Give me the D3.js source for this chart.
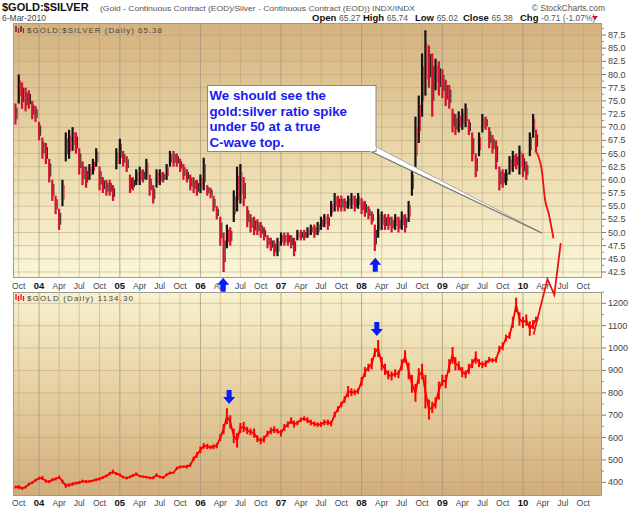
<!DOCTYPE html>
<html><head><meta charset="utf-8">
<script src="https://cdn.jsdelivr.net/npm/d3@7"></script>
<style>body{margin:0;background:#fff}svg{display:block}text{font-family:"Liberation Sans",Arial,sans-serif}</style>
</head><body>
<svg id="c" width="640" height="510"></svg>
<script>
// ---- data (half-monthly ranges, starting 16-Sep-2003) ----
const ratioHi = [74.5,80,78.5,77.5,77,75,74,71,68,67,64,60,57,54.5,60,69,69.5,70,69,66,63.5,62.5,63,64,66,62.5,60.5,60,60,59,66,67.8,65.5,64.5,61,60.5,62,62.5,62,64,61,59,62,62,61.5,63,65.5,65.5,65,64,63,62,61,60.5,60,61,64.2,59,58.5,57,55,53,50,51.5,51,58,62.5,63,60.5,55,53.5,53,52.5,52,51,49.5,49,48.5,49,50,50,50,49.5,49,50.5,50.5,50.5,51,51.5,51.5,52,53,53.5,53.5,56,57.5,57,57,56.5,57,57.5,57,57.5,56.5,56,55,54,51.5,54.5,54,53.5,53.5,53,53.5,53,54,53.5,56,62,72,76,84,88.4,85.5,84,83,82.5,81,79,78,73.5,72.5,73,73.5,74.5,71.5,69,65,69,72.5,72,70,68.5,67.5,62.5,62,62,64.5,65.5,65,66.5,65,63.5,69,72.5,69.5];
const ratioLo = [70.5,74.5,73.5,73,73.5,71.5,71,67.5,64,63,59.5,56,53.5,50.5,55,63.5,64,65.5,65,61,59,58.5,60,61,62.5,58,57.5,57,57,56,62,63,62.5,61.5,57.5,58,59,59,59.5,60,57,55.5,58.5,59,59.5,60,62.5,62.5,62.5,61.5,60,59.5,58,57.5,57,57.5,58,57,56.5,54,52.5,47.5,42.5,47,47.5,52,54,55.5,55,51,50,49.5,49.5,49,48.5,47,46.5,45.5,45.5,47.5,47.5,47.5,47,45.5,48.5,48.5,48.5,49,49.5,49,49.5,50.5,51,50.5,53,54,54,54,54,54.5,54.5,54,54.5,53.5,53,52.5,51.5,46.5,49,50.5,50.5,50.5,50,50.5,50,50.5,50,52,57,62,67,72,76,77.5,72,77,76,75.5,74,73.5,69,68.5,69,69.5,70,68.5,63.5,60.5,64.5,69,69.5,66,65,62,58,58.5,59,61,61.5,62,61,60.5,60,64.5,68,65.2];
const goldHi = [385,388,380,385,398,404,415,425,428,412,410,418,422,430,412,395,395,400,403,406,412,410,410,412,418,422,428,435,446,456,445,440,428,425,430,437,444,432,430,428,425,426,440,430,426,440,448,448,470,475,475,478,485,515,535,560,575,572,565,570,575,615,660,731,700,640,620,665,670,648,640,640,610,600,608,630,645,650,640,635,660,672,690,675,675,690,695,690,680,672,668,670,680,680,675,715,740,760,785,830,820,815,820,870,915,930,955,1000,1036,960,930,900,895,905,900,950,990,935,880,840,910,930,880,770,760,780,850,880,880,950,1005,960,940,915,900,930,950,985,950,940,945,960,955,960,1010,1025,1060,1070,1140,1225,1160,1140,1150,1120,1125,1140];
const goldLo = [372,370,366,372,385,392,403,412,410,398,396,404,408,415,395,375,380,385,390,392,398,396,398,402,405,408,415,422,432,438,432,426,418,413,418,424,430,422,420,418,414,414,425,418,415,428,436,438,455,462,465,462,470,495,510,530,550,548,548,548,552,585,615,660,640,575,555,620,625,615,610,600,580,570,578,605,615,620,618,605,630,645,660,645,655,670,675,665,655,650,648,648,655,655,650,690,715,735,755,780,785,790,795,830,870,895,905,960,960,900,880,860,855,870,865,900,935,860,800,760,840,860,730,680,710,730,770,830,820,890,930,900,900,870,865,885,910,930,915,910,915,935,935,935,980,990,1030,1040,1090,1160,1100,1090,1100,1055,1085,1115];
// hand-drawn projections (date, value)
const ratioProjDates = ["2010-03-01","2010-03-27","2010-04-11","2010-04-27","2010-05-19"];
const ratioProjVals = [65.4,61.9,56.2,53.7,48.9];
const goldProjDates = ["2010-02-18","2010-04-22","2010-05-23","2010-06-21"];
const goldProjVals = [1060,1308,1239,1469];
// arrow tips
const ratioArrowDates = ["2006-04-14","2008-03-03"];
const ratioArrowVals = [41.4,45.2];
const goldArrowDates = ["2006-05-11","2008-03-10"];
const goldArrowVals = [750,1054];
const calloutTipDate = "2010-03-27", calloutTipVal = 49.9;
const noteLines = ["We should see the","gold:silver ratio spike","under 50 at a true","C-wave top."];
const ratioTicks = d3.range(42.5, 88, 2.5);
const goldTicks = d3.range(400, 1201, 100);

// ---- layout ----
const L = 13, R = 602;
const TP = {y0: 23, y1: 278}, BP = {y0: 292, y1: 496};
const parse = d3.timeParse("%Y-%m-%d");
const dates = ratioHi.map((_, k) => { const i = k + 1; return new Date(2003, 8 + Math.floor(i / 2), i % 2 ? 16 : 1); });

const x = d3.scaleTime().domain([new Date(2003, 8, 5), new Date(2010, 11, 25)]).range([L, R]);
const yR = d3.scaleLinear().domain([42.5, 87.5]).range([272, 35]);
const yG = d3.scaleLinear().domain([400, 1200]).range([482.3, 303.3]);

const svg = d3.select("#c");
const defs = svg.append("defs");
const g1 = defs.append("linearGradient").attr("id", "gt").attr("x1", 0).attr("y1", 0).attr("x2", 0).attr("y2", 1);
g1.append("stop").attr("offset", 0).attr("stop-color", "#d4b27f");
g1.append("stop").attr("offset", 0.5).attr("stop-color", "#ead7a8");
g1.append("stop").attr("offset", 1).attr("stop-color", "#fbf7d9");
const g2 = defs.append("linearGradient").attr("id", "gb").attr("x1", 0).attr("y1", 0).attr("x2", 0).attr("y2", 1);
g2.append("stop").attr("offset", 0).attr("stop-color", "#f8f2cd");
g2.append("stop").attr("offset", 0.5).attr("stop-color", "#e6cf9f");
g2.append("stop").attr("offset", 1).attr("stop-color", "#d2ad7c");
defs.append("clipPath").attr("id", "ct").append("rect").attr("x", L).attr("y", TP.y0).attr("width", R - L).attr("height", TP.y1 - TP.y0);
defs.append("clipPath").attr("id", "cb").append("rect").attr("x", L).attr("y", BP.y0).attr("width", R - L).attr("height", BP.y1 - BP.y0);

svg.append("rect").attr("width", 640).attr("height", 510).attr("fill", "#fff");
[[TP, "gt"], [BP, "gb"]].forEach(([p, id]) => {
  svg.append("rect").attr("x", L).attr("y", p.y0).attr("width", R - L).attr("height", p.y1 - p.y0).attr("fill", `url(#${id})`);
});

const quarters = d3.timeMonth.every(3).range(new Date(2003, 9, 1), new Date(2010, 10, 2));
function grid(p, ys, yScale) {
  const g = svg.append("g");
  g.selectAll(".h").data(ys).join("line")
    .attr("x1", L).attr("x2", R).attr("y1", d => yScale(d)).attr("y2", d => yScale(d))
    .attr("stroke", "#b09a78").attr("stroke-opacity", 0.45).attr("stroke-width", 1);
  g.selectAll(".v").data(quarters).join("line")
    .attr("x1", d => x(d)).attr("x2", d => x(d)).attr("y1", p.y0).attr("y2", p.y1)
    .attr("stroke", d => d.getMonth() === 0 ? "#9d9482" : "#b09a78")
    .attr("stroke-opacity", d => d.getMonth() === 0 ? 0.75 : 0.45).attr("stroke-width", 1);
}
grid(TP, ratioTicks, yR);
grid(BP, goldTicks, yG);

// ---- ratio bars ----
const gr = svg.append("g").attr("clip-path", "url(#ct)");
const mids = ratioHi.map((h, i) => (h + ratioLo[i]) / 2);
const upC = (i) => (i > 0 && mids[i] > mids[i - 1]);
gr.selectAll("rect").data(dates).join("rect")
  .attr("x", d => x(d) - 1.1).attr("width", 2.2)
  .attr("y", (d, i) => yR(ratioHi[i])).attr("height", (d, i) => yR(ratioLo[i]) - yR(ratioHi[i]))
  .attr("fill", (d, i) => upC(i) ? "#141414" : "#d8102e");
gr.selectAll("line").data(dates).join("line")
  .attr("x1", d => x(d) + 1.6).attr("x2", d => x(d) + 1.6)
  .attr("y1", (d, i) => yR(mids[i] + (ratioHi[i] - ratioLo[i]) * 0.3)).attr("y2", (d, i) => yR(mids[i] - (ratioHi[i] - ratioLo[i]) * 0.25))
  .attr("stroke", (d, i) => upC(i) ? "#d8102e" : "#141414").attr("stroke-width", 0.9);

// ---- gold ----
const gg = svg.append("g").attr("clip-path", "url(#cb)");
gg.selectAll("rect").data(dates).join("rect")
  .attr("x", d => x(d) - 1).attr("width", 2)
  .attr("y", (d, i) => yG(goldHi[i])).attr("height", (d, i) => yG(goldLo[i]) - yG(goldHi[i]))
  .attr("fill", "#ff0000");
gg.append("path").datum(dates)
  .attr("d", d3.line().x(d => x(d)).y((d, i) => yG((goldHi[i] + goldLo[i]) / 2)))
  .attr("fill", "none").attr("stroke", "#ff0000").attr("stroke-width", 1.8);

// borders
[TP, BP].forEach(p => svg.append("rect").attr("x", L + 0.5).attr("y", p.y0 + 0.5).attr("width", R - L - 1).attr("height", p.y1 - p.y0 - 1)
  .attr("fill", "none").attr("stroke", "#a09a90").attr("stroke-width", 1));

// ---- right axes ----
function rightAxis(vals, yScale, fmt, step, p) {
  const g = svg.append("g");
  g.selectAll("line.maj").data(vals).join("line").attr("x1", R).attr("x2", R + 4)
    .attr("y1", d => yScale(d)).attr("y2", d => yScale(d)).attr("stroke", "#777");
  const minors = vals.map(v => v + step / 2).filter(v => yScale(v) > p.y0 && yScale(v) < p.y1);
  g.selectAll("line.min").data(minors).join("line").attr("x1", R).attr("x2", R + 2)
    .attr("y1", d => yScale(d)).attr("y2", d => yScale(d)).attr("stroke", "#888");
  g.selectAll("text").data(vals).join("text").attr("x", R + 6).attr("y", d => yScale(d) + 3)
    .attr("font-size", 9).attr("fill", "#444").text(fmt);
}
rightAxis(ratioTicks, yR, d3.format(".1f"), 2.5, TP);
rightAxis(goldTicks, yG, d3.format("d"), 100, BP);

// ---- date axes ----
function dateAxis(yb) {
  const g = svg.append("g");
  g.selectAll("text").data(quarters).join("text")
    .attr("x", d => x(d)).attr("y", yb).attr("text-anchor", "middle")
    .attr("font-size", d => d.getMonth() === 0 ? 9.5 : 8.5)
    .attr("font-weight", d => d.getMonth() === 0 ? "bold" : "normal")
    .attr("fill", d => d.getMonth() === 0 ? "#111" : "#444")
    .text(d => d.getMonth() === 0 ? d3.timeFormat("%y")(d) : d3.timeFormat("%b")(d));
}
dateAxis(289);
dateAxis(506);

// ---- projections ----
svg.append("path").datum(ratioProjDates.map((d, i) => [parse(d), ratioProjVals[i]]))
  .attr("d", d3.line().x(d => x(d[0])).y(d => yR(d[1])).curve(d3.curveMonotoneX))
  .attr("fill", "none").attr("stroke", "#ee1111").attr("stroke-width", 1.8);
svg.append("path").datum(goldProjDates.map((d, i) => [parse(d), goldProjVals[i]]))
  .attr("d", d3.line().x(d => x(d[0])).y(d => yG(d[1])))
  .attr("fill", "none").attr("stroke", "#ee1111").attr("stroke-width", 1.8);

// ---- arrows ----
function arrow(cx, tipY, dir) {
  const s = dir === "up" ? 1 : -1;
  const pts = [[0, 0], [6, 7], [2.5, 7], [2.5, 14], [-2.5, 14], [-2.5, 7], [-6, 7]]
    .map(([a, b]) => [cx + a, tipY + s * b]);
  svg.append("polygon").attr("points", pts.map(p => p.join(",")).join(" ")).attr("fill", "#0a1cff");
}
ratioArrowDates.forEach((d, i) => arrow(x(parse(d)), yR(ratioArrowVals[i]), "up"));
goldArrowDates.forEach((d, i) => arrow(x(parse(d)), yG(goldArrowVals[i]), "down"));

// ---- callout ----
const tip = [x(parse(calloutTipDate)), yR(calloutTipVal)];
const box = {x: 207, y: 85, w: 168.5, h: 66};
const b1 = [box.x + box.w - 5.5, box.y + box.h], b2 = [box.x + box.w, box.y + box.h - 4.5];
svg.append("polygon").attr("points", [b1, tip, b2].map(p => p.join(",")).join(" "))
  .attr("fill", "#fff").attr("stroke", "none");
svg.append("line").attr("x1", b2[0]).attr("y1", b2[1]).attr("x2", tip[0]).attr("y2", tip[1]).attr("stroke", "#a8a8a8").attr("stroke-width", 1);
svg.append("line").attr("x1", b1[0]).attr("y1", b1[1]).attr("x2", tip[0]).attr("y2", tip[1]).attr("stroke", "#6e6e6e").attr("stroke-width", 1.2);
svg.append("rect").attr("x", box.x + 0.5).attr("y", box.y + 0.5).attr("width", box.w).attr("height", box.h)
  .attr("fill", "#fff").attr("stroke", "#8a8a8a");
svg.append("line").attr("x1", b1[0] + 0.5).attr("y1", b1[1] + 0.5).attr("x2", b2[0] + 0.5).attr("y2", b2[1] + 0.5).attr("stroke", "#fff").attr("stroke-width", 2);
svg.append("g").selectAll("text").data(noteLines).join("text")
  .attr("x", box.x + 2.5).attr("y", (d, i) => box.y + 15 + i * 15.5)
  .attr("font-size", 13.3).attr("font-weight", "bold").attr("fill", "#1a1aee").text(d => d);

// ---- headers ----
svg.append("text").attr("x", 2).attr("y", 11).attr("font-size", 11).attr("font-weight", "bold").attr("fill", "#111").text("$GOLD:$SILVER");
svg.append("text").attr("x", 100).attr("y", 11).attr("font-size", 8).attr("fill", "#555")
  .attr("textLength", 315).attr("lengthAdjust", "spacingAndGlyphs")
  .text("(Gold - Continuous Contract (EOD)/Silver - Continuous Contract (EOD))  INDX/INDX");
svg.append("text").attr("x", 605).attr("y", 11).attr("font-size", 8.5).attr("fill", "#555").attr("text-anchor", "end").text("© StockCharts.com");
svg.append("text").attr("x", 2).attr("y", 21).attr("font-size", 8.5).attr("fill", "#444").text("6-Mar-2010");
const ohlc = [["Open", "65.27", 312], ["High", "65.74", 363], ["Low", "65.02", 415], ["Close", "65.38", 463], ["Chg", "-0.71 (-1.07%)", 520]];
ohlc.forEach(([k, v, px]) => {
  const t = svg.append("text").attr("x", px).attr("y", 21).attr("font-size", 9.5);
  t.append("tspan").attr("font-weight", "bold").attr("fill", "#111").text(k + " ");
  t.append("tspan").attr("fill", "#555").attr("font-size", 8.5).text(v);
});
svg.append("polygon").attr("points", "592,16 598,16 595,20").attr("fill", "#d01020");

function panelLabel(y, txt, up, down) {
  const g = svg.append("g");
  [[16, up], [18.5, down], [21, up], [23.5, down]].forEach(([xx, c], i) =>
    g.append("line").attr("x1", xx).attr("x2", xx).attr("y1", y - 7 + (i % 2) * 2).attr("y2", y - 1 + (i % 2)).attr("stroke", c).attr("stroke-width", 1.3));
  g.append("text").attr("x", 27).attr("y", y).attr("font-family", "DejaVu Sans").attr("font-size", 8).attr("fill", "#444")
    .attr("textLength", up === "#222" ? 135 : 106).attr("lengthAdjust", "spacing").text(txt);
}
panelLabel(33, "$GOLD:$SILVER (Daily) 65.38", "#222", "#d01020");
panelLabel(301, "$GOLD (Daily) 1134.30", "#ee1111", "#ee1111");
</script>
</body></html>
